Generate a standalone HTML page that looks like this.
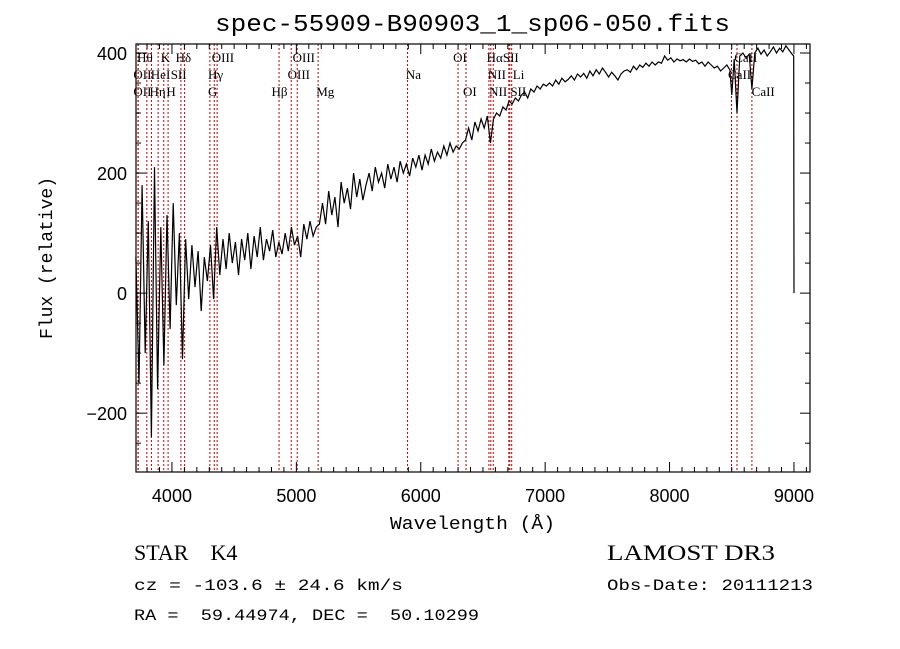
<!DOCTYPE html>
<html><head><meta charset="utf-8"><style>
body{margin:0;background:#fff;width:900px;height:649px;overflow:hidden}
svg{display:block}
text{font-family:"Liberation Serif",serif;fill:#000;white-space:pre}
.mono{font-family:"Liberation Mono",monospace}
</style></head><body>
<svg id="chart" width="900" height="649" viewBox="0 0 900 649" xml:space="preserve">
<text class="mono" x="215" y="31" font-size="24" textLength="515" lengthAdjust="spacingAndGlyphs">spec-55909-B90903_1_sp06-050.fits</text>
<g id="lines"></g>
<g id="labels"></g>
<path id="spec" fill="none" stroke="#000" stroke-width="1.2"/>
<rect x="136" y="44" width="674" height="428" fill="none" stroke="#000" stroke-width="1.2"/>
<g id="ticks"></g>
<text class="mono" x="390" y="529" font-size="18" textLength="165" lengthAdjust="spacingAndGlyphs">Wavelength (Å)</text>
<text class="mono" x="0" y="0" font-size="18" text-anchor="middle" transform="translate(52,258) rotate(-90)">Flux (relative)</text>
<text x="134" y="560" font-size="22">STAR    K4</text>
<text class="mono" x="134" y="590" font-size="16" textLength="269" lengthAdjust="spacingAndGlyphs">cz = -103.6 ± 24.6 km/s</text>
<text class="mono" x="134" y="620" font-size="16" textLength="345" lengthAdjust="spacingAndGlyphs">RA =  59.44974, DEC =  50.10299</text>
<text x="607" y="560" font-size="22" textLength="168" lengthAdjust="spacingAndGlyphs">LAMOST DR3</text>
<text class="mono" x="607" y="590" font-size="16" textLength="206" lengthAdjust="spacingAndGlyphs">Obs-Date: 20111213</text>
</svg>
<script>
const wave=[3710,3735,3760,3785,3810,3835,3860,3885,3910,3935,3960,3985,4010,4035,4060,4085,4110,4135,4160,4185,4210,4235,4260,4285,4310,4335,4360,4385,4410,4435,4460,4485,4510,4535,4560,4585,4610,4635,4660,4685,4710,4735,4760,4785,4810,4835,4860,4885,4910,4935,4960,4985,5010,5035,5060,5085,5110,5135,5160,5185,5210,5235,5260,5285,5310,5335,5360,5385,5410,5435,5460,5485,5510,5535,5560,5585,5610,5635,5660,5685,5710,5735,5760,5785,5810,5835,5860,5885,5910,5935,5960,5985,6010,6035,6060,6085,6110,6135,6160,6185,6210,6235,6260,6285,6310,6335,6360,6385,6410,6435,6460,6485,6510,6535,6560,6585,6610,6635,6660,6685,6710,6735,6760,6785,6810,6835,6860,6885,6910,6935,6960,6985,7010,7035,7060,7085,7110,7135,7160,7185,7210,7235,7260,7285,7310,7335,7360,7385,7410,7435,7460,7485,7510,7535,7560,7585,7610,7635,7660,7685,7710,7735,7760,7785,7810,7835,7860,7885,7910,7935,7960,7985,8010,8035,8060,8085,8110,8135,8160,8185,8210,8235,8260,8285,8310,8335,8360,8385,8410,8435,8460,8485,8500,8520,8542,8565,8590,8615,8640,8662,8685,8710,8735,8760,8785,8810,8835,8860,8885,8910,8935,8960,8985,8998,9000];
const flux=[60,-150,180,-100,120,-240,210,-160,110,-120,130,-60,150,-20,100,-110,90,-10,80,10,70,-30,60,20,80,-10,110,30,90,40,100,50,85,30,90,55,100,40,95,60,110,55,90,70,105,60,85,65,100,70,110,80,95,60,115,90,120,95,110,115,150,115,170,130,160,110,185,150,175,140,200,160,190,155,180,200,170,210,185,200,175,215,190,210,185,220,200,215,195,225,210,230,205,230,215,240,220,235,225,245,230,250,235,245,240,250,255,275,255,285,270,290,275,295,250,290,300,295,310,305,320,315,325,320,330,335,325,340,335,345,340,348,345,350,345,355,348,358,352,356,362,355,365,360,366,358,370,362,372,365,375,368,360,368,362,355,365,370,372,368,378,372,380,376,383,378,385,380,385,383,395,388,392,385,390,387,389,385,390,386,388,382,385,378,385,380,375,378,370,375,380,372,330,390,300,395,400,392,398,340,400,408,398,405,395,402,410,400,408,402,412,405,398,395,0];
const lineWaves=[3727,3729,3798,3835,3889,3934,3969,4072,4102,4305,4340,4363,4861,4959,5007,5175,5894,6300,6364,6548,6563,6583,6708,6716,6731,8498,8542,8662];
const labelText=["Hθ","K","Hδ","OIII","OIII","OI","HαSII","OII","HeI","SII","Hγ","OIII","Na","NII","Li","OII","Hη","H","G","Hβ","Mg","OI","NII","SII","CaII","CaII","CaII"];
const labelWave=[3720,3910,4030,4320,4970,6260,6530,3690,3830,3990,4290,4930,5880,6540,6740,3690,3820,3955,4290,4800,5160,6340,6550,6720,8520,8470,8660];
const labelRow=[0,0,0,0,0,0,0,1,1,1,1,1,1,1,1,2,2,2,2,2,2,2,2,2,0,1,2];
const xTicks=[4000,5000,6000,7000,8000,9000];
const yTicks=[-200,0,200,400];
const X0=136,X1=810,Y0=472,Y1=44,WMIN=3711,WMAX=9129,FMIN=-298,FMAX=415;
const xs=w=>X0+(w-WMIN)/(WMAX-WMIN)*(X1-X0);
const ys=f=>Y0-(f-FMIN)/(FMAX-FMIN)*(Y0-Y1);
const NS="http://www.w3.org/2000/svg";
function mk(t,a){const e=document.createElementNS(NS,t);for(const k in a)e.setAttribute(k,a[k]);return e;}
const gl=document.getElementById('lines');
lineWaves.forEach(w=>{const l=mk('line',{x1:xs(w),x2:xs(w),y1:Y1,y2:Y0,stroke:'#c00000','stroke-width':1,'stroke-dasharray':'2,2'});


gl.appendChild(l);});
const glb=document.getElementById('labels');
labelText.forEach((t,i)=>{const e=mk('text',{x:xs(labelWave[i]),y:62+labelRow[i]*17,'font-size':13});e.textContent=t;


glb.appendChild(e);});
let d='';wave.forEach((w,i)=>{d+=(i?'L':'M')+xs(w).toFixed(1)+','+ys(flux[i]).toFixed(1);});
document.getElementById('spec').setAttribute('d',d);
const gt=document.getElementById('ticks');
for(let w=3800;w<=9100;w+=100){const major=w%1000===0,len=major?10:5;
gt.appendChild(mk('line',{x1:xs(w),x2:xs(w),y1:Y0,y2:Y0-len,stroke:'#000'}));
gt.appendChild(mk('line',{x1:xs(w),x2:xs(w),y1:Y1,y2:Y1+len,stroke:'#000'}));}
for(let f=-250;f<=400;f+=50){const major=f%200===0,len=major?10:5;
gt.appendChild(mk('line',{x1:X0,x2:X0+len,y1:ys(f),y2:ys(f),stroke:'#000'}));
gt.appendChild(mk('line',{x1:X1,x2:X1-len,y1:ys(f),y2:ys(f),stroke:'#000'}));}
xTicks.forEach(w=>{const t=mk('text',{x:xs(w),y:502,'font-size':18,'text-anchor':'middle',style:'font-family:"Liberation Sans",sans-serif'});t.textContent=w;


gt.appendChild(t);});
yTicks.forEach(f=>{const t=mk('text',{x:127,y:ys(f)+7,'font-size':18,'text-anchor':'end',style:'font-family:"Liberation Sans",sans-serif'});t.textContent=f<0?'−'+(-f):f;


gt.appendChild(t);});
</script>
</body></html>
